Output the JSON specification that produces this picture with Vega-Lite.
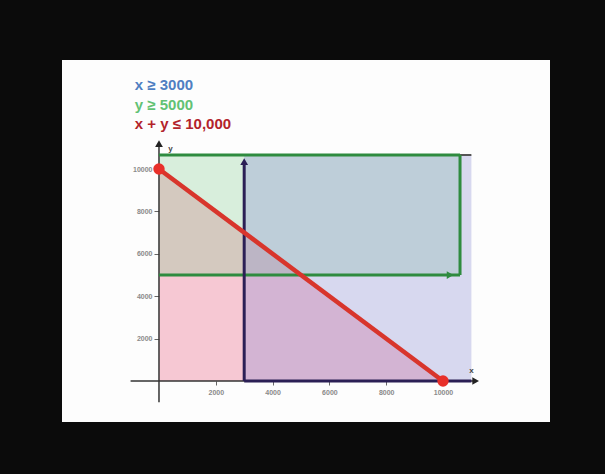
{
  "$schema": "https://vega.github.io/schema/vega-lite/v6.json",
  "width": 488,
  "height": 362,
  "padding": {"left": 62, "top": 60, "right": 55, "bottom": 52},
  "autosize": {"type": "none"},
  "background": "#0b0b0b",
  "config": {"view": {"stroke": null, "fill": "#fdfdfd"}},
  "encoding": {
    "x": {"field": "x", "type": "quantitative", "scale": {"domain": [-3415, 13768], "nice": false, "zero": false},
      "axis": {"orient": "bottom", "offset": -41, "values": [2000, 4000, 6000, 8000, 10000], "format": "d", "domain": false, "grid": false, "tickSize": 4, "tickColor": "#666", "labelColor": "#8a8a8a", "labelFontSize": 7, "labelFontWeight": "bold", "labelPadding": 3, "title": null}},
    "y": {"field": "y", "type": "quantitative", "scale": {"domain": [-1934, 15142], "nice": false, "zero": false},
      "axis": {"orient": "left", "offset": -97, "values": [2000, 4000, 6000, 8000, 10000], "format": "d", "domain": false, "grid": false, "tickSize": 5, "tickColor": "#666", "labelColor": "#8a8a8a", "labelFontSize": 7, "labelFontWeight": "bold", "labelPadding": 2, "title": null}}
  },
  "resolve": {"scale": {"color": "independent", "shape": "independent"}},
  "layer": [
    {
      "data": {"values": [{"x": 0, "y": 10000}, {"x": 10000, "y": 0}]},
      "mark": {"type": "area", "color": "#ec7f98", "opacity": 0.42},
      "encoding": {"y2": {"datum": 0}}
    },
    {
      "data": {"values": [{"x": 0, "x2": 10600, "y": 5000, "y2": 10660}]},
      "mark": {"type": "rect", "color": "#84cc92", "opacity": 0.3},
      "encoding": {"x2": {"field": "x2"}, "y2": {"field": "y2"}}
    },
    {
      "data": {"values": [{"x": 3000, "x2": 11000, "y": 0, "y2": 10660}]},
      "mark": {"type": "rect", "color": "#8a8cd4", "opacity": 0.32},
      "encoding": {"x2": {"field": "x2"}, "y2": {"field": "y2"}}
    },
    {
      "data": {"values": [{"x": -1000, "x2": 11100, "y": 0, "y2": 0}, {"x": 0, "x2": 0, "y": -1000, "y2": 11100}]},
      "mark": {"type": "rule", "color": "#333", "strokeWidth": 1.5},
      "encoding": {"x2": {"field": "x2"}, "y2": {"field": "y2"}}
    },
    {
      "data": {"values": [{"x": 10600, "x2": 11000, "y": 10660, "y2": 10660}]},
      "mark": {"type": "rule", "color": "#555", "strokeWidth": 2},
      "encoding": {"x2": {"field": "x2"}, "y2": {"field": "y2"}}
    },
    {
      "data": {"values": [{"x": 0, "x2": 10600, "y": 5000, "y2": 5000}, {"x": 0, "x2": 10600, "y": 10660, "y2": 10660}, {"x": 10600, "x2": 10600, "y": 5000, "y2": 10660}]},
      "mark": {"type": "rule", "color": "#2e8b3f", "strokeWidth": 3},
      "encoding": {"x2": {"field": "x2"}, "y2": {"field": "y2"}}
    },
    {
      "data": {"values": [{"x": 3000, "x2": 3000, "y": 0, "y2": 10300}, {"x": 3000, "x2": 11000, "y": 0, "y2": 0}]},
      "mark": {"type": "rule", "color": "#2b1f55", "strokeWidth": 3},
      "encoding": {"x2": {"field": "x2"}, "y2": {"field": "y2"}}
    },
    {
      "data": {"values": [{"x": 10250, "y": 5000, "s": "triangle-right", "c": "g"}, {"x": 3000, "y": 10350, "s": "triangle-up", "c": "n"}, {"x": 11150, "y": 0, "s": "triangle-right", "c": "k"}, {"x": 0, "y": 11200, "s": "triangle-up", "c": "k"}]},
      "mark": {"type": "point", "filled": true, "opacity": 1, "size": 60},
      "encoding": {
        "shape": {"field": "s", "type": "nominal", "scale": null, "legend": null},
        "color": {"field": "c", "type": "nominal", "scale": {"domain": ["g", "n", "k"], "range": ["#2e8b3f", "#2b1f55", "#222"]}, "legend": null}
      }
    },
    {
      "data": {"values": [{"x": 0, "x2": 10000, "y": 10000, "y2": 0}]},
      "mark": {"type": "rule", "color": "#d8352c", "strokeWidth": 4.5},
      "encoding": {"x2": {"field": "x2"}, "y2": {"field": "y2"}}
    },
    {
      "data": {"values": [{"x": 0, "y": 10000}, {"x": 10000, "y": 0}]},
      "mark": {"type": "circle", "color": "#e8302a", "opacity": 1, "size": 130}
    },
    {
      "data": {"values": [{"x": 11000, "y": 450, "t": "x"}, {"x": 400, "y": 10950, "t": "y"}]},
      "mark": {"type": "text", "color": "#444", "fontSize": 8, "font": "Liberation Sans", "fontWeight": "bold"},
      "encoding": {"text": {"field": "t"}}
    },
    {
      "data": {"values": [{"x": -850, "y": 13960, "t": "x ≥ 3000", "k": "a"}, {"x": -850, "y": 13020, "t": "y ≥ 5000", "k": "b"}, {"x": -850, "y": 12120, "t": "x + y ≤ 10,000", "k": "c"}]},
      "mark": {"type": "text", "align": "left", "baseline": "middle", "fontSize": 15, "font": "Liberation Sans", "fontWeight": "bold"},
      "encoding": {
        "text": {"field": "t"},
        "color": {"field": "k", "type": "nominal", "scale": {"domain": ["a", "b", "c"], "range": ["#4f7fc2", "#62c274", "#b3232b"]}, "legend": null}
      }
    }
  ]
}
